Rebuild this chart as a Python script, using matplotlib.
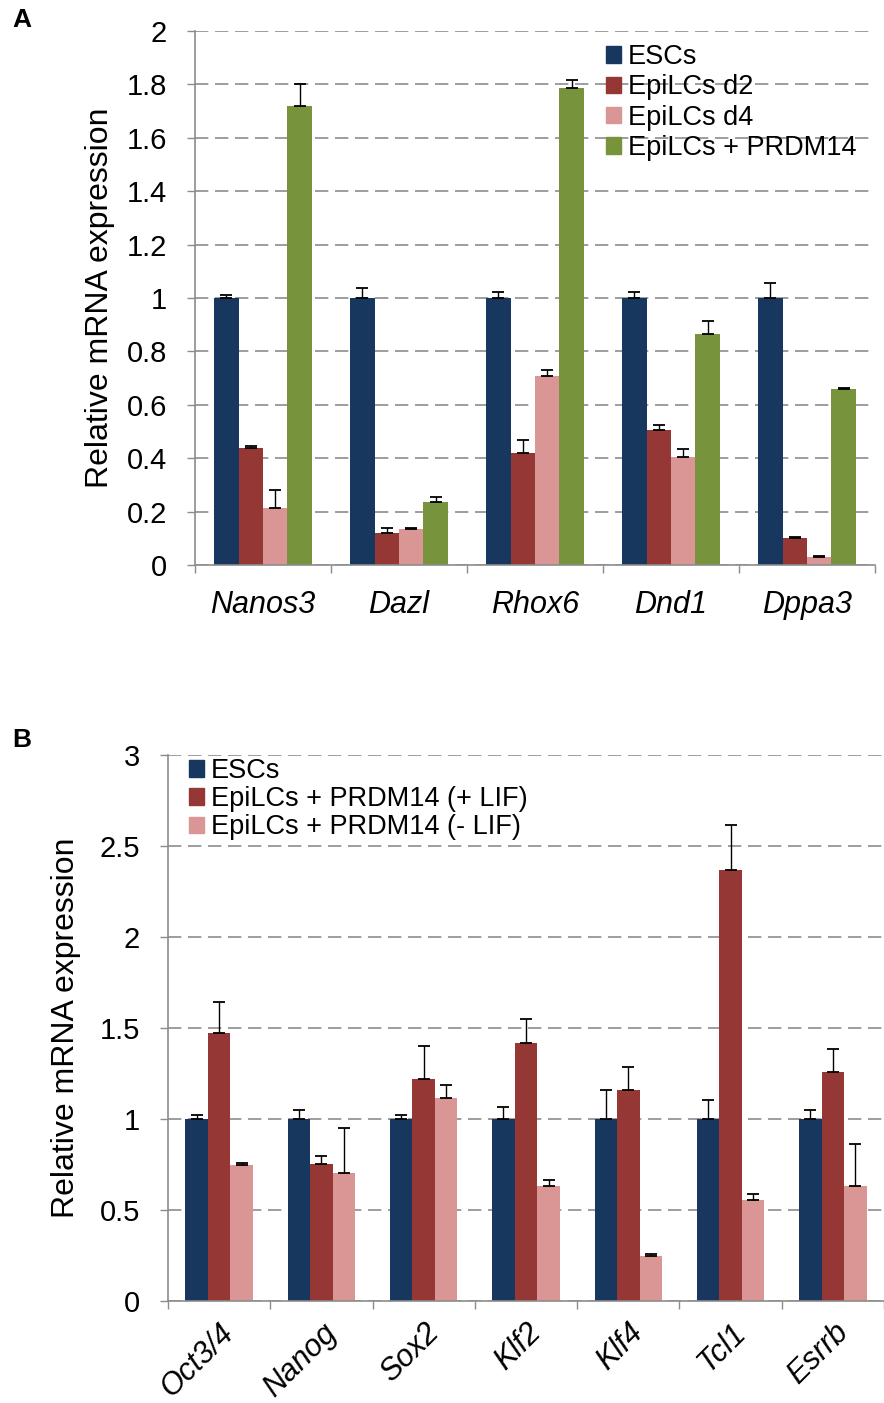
import matplotlib
matplotlib.use("Agg")
import matplotlib.pyplot as plt
import numpy as np
from matplotlib.transforms import ScaledTranslation

plt.rcParams['font.family'] = ['Liberation Sans', 'DejaVu Sans']

# ---------------- Data: panel A ----------------
genes_a = ['Nanos3', 'Dazl', 'Rhox6', 'Dnd1', 'Dppa3']
series_a = ['ESCs', 'EpiLCs d2', 'EpiLCs d4', 'EpiLCs + PRDM14']
esc_a = [1.0, 1.0, 1.0, 1.0, 1.0]
esc_a_err = [0.010, 0.036, 0.024, 0.024, 0.055]
d2_a = [0.44, 0.12, 0.42, 0.505, 0.10]
d2_a_err = [0.007, 0.017, 0.050, 0.020, 0.003]
d4_a = [0.212, 0.134, 0.709, 0.405, 0.029]
d4_a_err = [0.068, 0.005, 0.020, 0.031, 0.004]
prdm_a = [1.718, 0.235, 1.786, 0.866, 0.660]
prdm_a_err = [0.085, 0.020, 0.029, 0.047, 0.003]
yticks_a = [0, 0.2, 0.4, 0.6, 0.8, 1.0, 1.2, 1.4, 1.6, 1.8, 2.0]
yticklabels_a = ['0', '0.2', '0.4', '0.6', '0.8', '1', '1.2', '1.4', '1.6', '1.8', '2']

# ---------------- Data: panel B ----------------
genes_b = ['Oct3/4', 'Nanog', 'Sox2', 'Klf2', 'Klf4', 'Tcl1', 'Esrrb']
series_b = ['ESCs', 'EpiLCs + PRDM14 (+ LIF)', 'EpiLCs + PRDM14 (- LIF)']
esc_b = [1.0, 1.0, 1.0, 1.0, 1.0, 1.0, 1.0]
esc_b_err = [0.024, 0.048, 0.024, 0.064, 0.159, 0.106, 0.048]
lifp_b = [1.475, 0.753, 1.221, 1.420, 1.157, 2.368, 1.260]
lifp_b_err = [0.167, 0.044, 0.179, 0.130, 0.130, 0.247, 0.122]
lifm_b = [0.750, 0.706, 1.113, 0.633, 0.247, 0.554, 0.634]
lifm_b_err = [0.009, 0.245, 0.072, 0.034, 0.013, 0.035, 0.229]
yticks_b = [0, 0.5, 1.0, 1.5, 2.0, 2.5, 3.0]
yticklabels_b = ['0', '0.5', '1', '1.5', '2', '2.5', '3']

colors_a = ['#17375E', '#953735', '#D99694', '#77933C']
colors_b = ['#17375E', '#953735', '#D99694']

W, H = 884, 1403
fig = plt.figure(figsize=(W / 100, H / 100), dpi=100)

GRID = '#8C8C8C'
SPINE = '#8C8C8C'


def style_axis(ax, ncat, yt, ytl, ylim, xmax):
    ax.set_xlim(-0.5, xmax)
    ax.set_ylim(*ylim)
    for s in ['top', 'right']:
        ax.spines[s].set_visible(False)
    for s in ['left', 'bottom']:
        ax.spines[s].set_color(SPINE)
        ax.spines[s].set_linewidth(1.2)
    ax.set_yticks(yt)
    ax.set_yticklabels(ytl)
    ax.yaxis.grid(True, linestyle=(0, (8, 4)), color=GRID, linewidth=1.2)
    ax.set_axisbelow(True)
    ax.tick_params(axis='y', direction='out', length=6, width=1.0, color=SPINE,
                   labelsize=21, pad=14)
    ax.set_xticks(np.arange(ncat))
    ax.set_xticks(np.arange(ncat + 1) - 0.5, minor=True)
    ax.tick_params(axis='x', which='major', length=0)
    ax.tick_params(axis='x', which='minor', direction='out', length=6, width=1.0,
                   color=SPINE)


def grouped(ax, groups, errs, colors, width):
    n = len(groups)
    x = np.arange(len(groups[0]))
    for i, (vals, err, c) in enumerate(zip(groups, errs, colors)):
        off = (i - (n - 1) / 2) * width
        ax.bar(x + off, vals, width, color=c, edgecolor='none', zorder=2)
        ax.errorbar(x + off, vals, yerr=[np.zeros(len(vals)), err], fmt='none',
                    ecolor='black', elinewidth=1.0, capsize=4, capthick=1.3,
                    zorder=3)
    return x


# ---------------- Panel A ----------------
axA = fig.add_axes([195 / W, 1 - 565 / H, 680 / W, 534 / H])
style_axis(axA, len(genes_a), yticks_a, yticklabels_a, (0, 2.0), 4.5)
grouped(axA, [esc_a, d2_a, d4_a, prdm_a], [esc_a_err, d2_a_err, d4_a_err, prdm_a_err],
        colors_a, 0.18)
axA.set_xticklabels(genes_a, fontsize=22, style='italic')
axA.tick_params(axis='x', which='major', pad=18)
axA.set_ylabel('Relative mRNA expression', fontsize=23, labelpad=8.5)
hA = [plt.Rectangle((0, 0), 1, 1, color=c) for c in colors_a]
axA.legend(hA, series_a, loc='upper left', bbox_to_anchor=(606 / W, 1 - 44 / H),
           bbox_transform=fig.transFigure, frameon=False, fontsize=19.5,
           handlelength=0.55, handleheight=0.55, handletextpad=0.25,
           labelspacing=0.16, borderpad=0, borderaxespad=0)

# ---------------- Panel B ----------------
axB = fig.add_axes([168 / W, 1 - 1301 / H, (W - 168) / W, 546 / H])
xmaxB = -0.5 + (W - 168) / 103.6
style_axis(axB, len(genes_b), yticks_b, yticklabels_b, (0, 3.0), xmaxB)
grouped(axB, [esc_b, lifp_b, lifm_b], [esc_b_err, lifp_b_err, lifm_b_err],
        colors_b, 0.22)
axB.set_xticklabels(genes_b, fontsize=22, style='italic', rotation=45,
                    ha='right', va='top', rotation_mode='anchor')
axB.tick_params(axis='x', which='major', pad=12)
for lab in axB.get_xticklabels():
    lab.set_transform(lab.get_transform() + ScaledTranslation(0.0, 0, fig.dpi_scale_trans))
axB.set_ylabel('Relative mRNA expression', fontsize=23, labelpad=13.5)
hB = [plt.Rectangle((0, 0), 1, 1, color=c) for c in colors_b]
axB.legend(hB, series_b, loc='upper left', bbox_to_anchor=(189 / W, 1 - 758 / H),
           bbox_transform=fig.transFigure, frameon=False, fontsize=19.5,
           handlelength=0.55, handleheight=0.55, handletextpad=0.25,
           labelspacing=0.08, borderpad=0, borderaxespad=0)

# Panel letters
fig.text(12 / W, 1 - 8 / H, 'A', fontsize=19, fontweight='bold', ha='left', va='top')
fig.text(12 / W, 1 - 728 / H, 'B', fontsize=19, fontweight='bold', ha='left', va='top')

fig.savefig('out.png', dpi=100)
